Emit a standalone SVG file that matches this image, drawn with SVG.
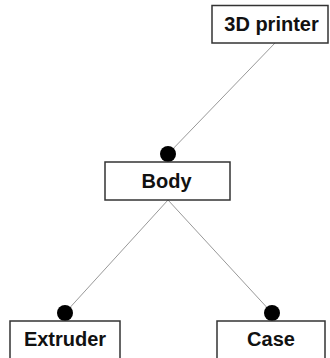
<svg xmlns="http://www.w3.org/2000/svg" width="330" height="358" viewBox="0 0 330 358">
<style>
.box{fill:#fff;stroke:#333;stroke-width:1.5}
.lbl{font-family:"Liberation Sans",Arial,sans-serif;font-weight:bold;font-size:20px;fill:#111;text-anchor:middle}
.conn{stroke:#999;stroke-width:1;fill:none}
.dot{fill:#000}
</style>
<rect width="330" height="358" fill="#fff"/>
<g id="connectors">
<line class="conn" x1="275" y1="43" x2="168" y2="154"/>
<line class="conn" x1="168" y1="200" x2="65" y2="313"/>
<line class="conn" x1="168" y1="200" x2="272" y2="313"/>
<circle class="dot" cx="168" cy="154" r="8"/>
<circle class="dot" cx="65" cy="313" r="8"/>
<circle class="dot" cx="272" cy="313" r="8"/>
</g>
<g id="node-3dprinter">
<rect class="box" x="212" y="5.5" width="116" height="37.5"/>
<text class="lbl" x="271.5" y="30.5">3D printer</text>
</g>
<g id="node-body">
<rect class="box" x="105" y="162" width="125" height="38"/>
<text class="lbl" x="166.5" y="188">Body</text>
</g>
<g id="node-extruder">
<rect class="box" x="10" y="321" width="110" height="40"/>
<text class="lbl" x="65" y="346">Extruder</text>
</g>
<g id="node-case">
<rect class="box" x="217" y="321" width="108" height="40"/>
<text class="lbl" x="271" y="346">Case</text>
</g>
</svg>
